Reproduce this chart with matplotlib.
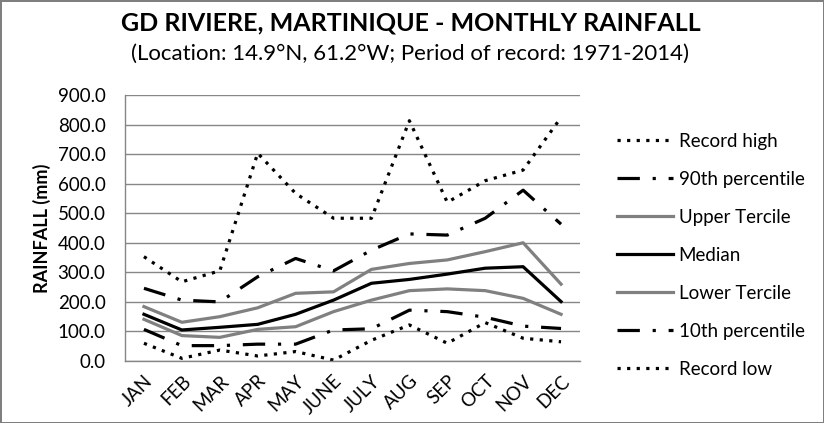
import matplotlib
matplotlib.use('Agg')
import matplotlib.pyplot as plt

plt.rcParams['font.family'] = ['Lato', 'DejaVu Sans']

# Monthly rainfall (mm)
months = ['JAN', 'FEB', 'MAR', 'APR', 'MAY', 'JUNE', 'JULY', 'AUG', 'SEP', 'OCT', 'NOV', 'DEC']
record_high = [353, 268, 305, 703, 567, 483, 483, 813, 537, 610, 646, 824]
pct90 = [246, 206, 200, 285, 347, 305, 375, 430, 426, 483, 578, 463]
upper_tercile = [184, 131, 150, 180, 229, 234, 310, 330, 342, 370, 400, 260]
median = [158, 105, 114, 124, 158, 206, 263, 276, 294, 314, 319, 201]
lower_tercile = [141, 86, 80, 107, 116, 167, 206, 238, 244, 238, 212, 158]
pct10 = [107, 52, 52, 57, 57, 105, 109, 172, 167, 148, 118, 110]
record_low = [60, 9, 37, 17, 32, 3, 70, 122, 60, 130, 77, 65]
yticks = [0, 100, 200, 300, 400, 500, 600, 700, 800, 900]

fig = plt.figure(figsize=(8.24, 4.23), dpi=100)
fig.patch.set_edgecolor('#7f7f7f')
fig.patch.set_linewidth(2)
ax = fig.add_axes([125/824, 62/423, 455/824, 266/423])

x = list(range(len(months)))
dots = (0, (1, 2))
dashdot = (0, (7, 4, 1, 4))
lw = 2.3
ax.plot(x, record_high, color='black', lw=lw, linestyle=dots, label='Record high')
ax.plot(x, pct90, color='black', lw=lw, linestyle=dashdot, label='90th percentile')
ax.plot(x, upper_tercile, color='#808080', lw=lw, label='Upper Tercile')
ax.plot(x, median, color='black', lw=lw, label='Median')
ax.plot(x, lower_tercile, color='#808080', lw=lw, label='Lower Tercile')
ax.plot(x, pct10, color='black', lw=lw, linestyle=dashdot, label='10th percentile')
ax.plot(x, record_low, color='black', lw=lw, linestyle=dots, label='Record low')

ax.set_xlim(-0.5, 11.5)
ax.set_ylim(0, 900)
ax.set_yticks(yticks)
ax.set_yticklabels(['%.1f' % v for v in yticks], fontsize=13.5)
ax.set_xticks(x)
ax.set_xticklabels(months, rotation=45, ha='right', rotation_mode='anchor', fontsize=13.5)
ax.tick_params(length=0)
ax.tick_params(axis='y', pad=14)
ax.tick_params(axis='x', pad=8)
ax.grid(axis='y', color='#868686', lw=1)
ax.set_axisbelow(True)
for s in ['top', 'right']:
    ax.spines[s].set_visible(False)
for s in ['left', 'bottom']:
    ax.spines[s].set_color('#868686')
    ax.spines[s].set_linewidth(1)
ax.set_ylabel('RAINFALL (mm)', fontsize=13, fontweight='bold', labelpad=5)

fig.text(411/824, 1 - 30/423, 'GD RIVIERE, MARTINIQUE - MONTHLY RAINFALL',
         ha='center', fontsize=18, fontweight='bold')
fig.text(410/824, 1 - 60/423, '(Location: 14.9\u00b0N, 61.2\u00b0W; Period of record: 1971-2014)',
         ha='center', fontsize=16)

fig.legend(loc='center left', bbox_to_anchor=(600/824, (423-255)/423), frameon=False,
           fontsize=13.5, handlelength=3.0, handletextpad=0.3, labelspacing=1.12)

fig.savefig('out.png', dpi=100)
